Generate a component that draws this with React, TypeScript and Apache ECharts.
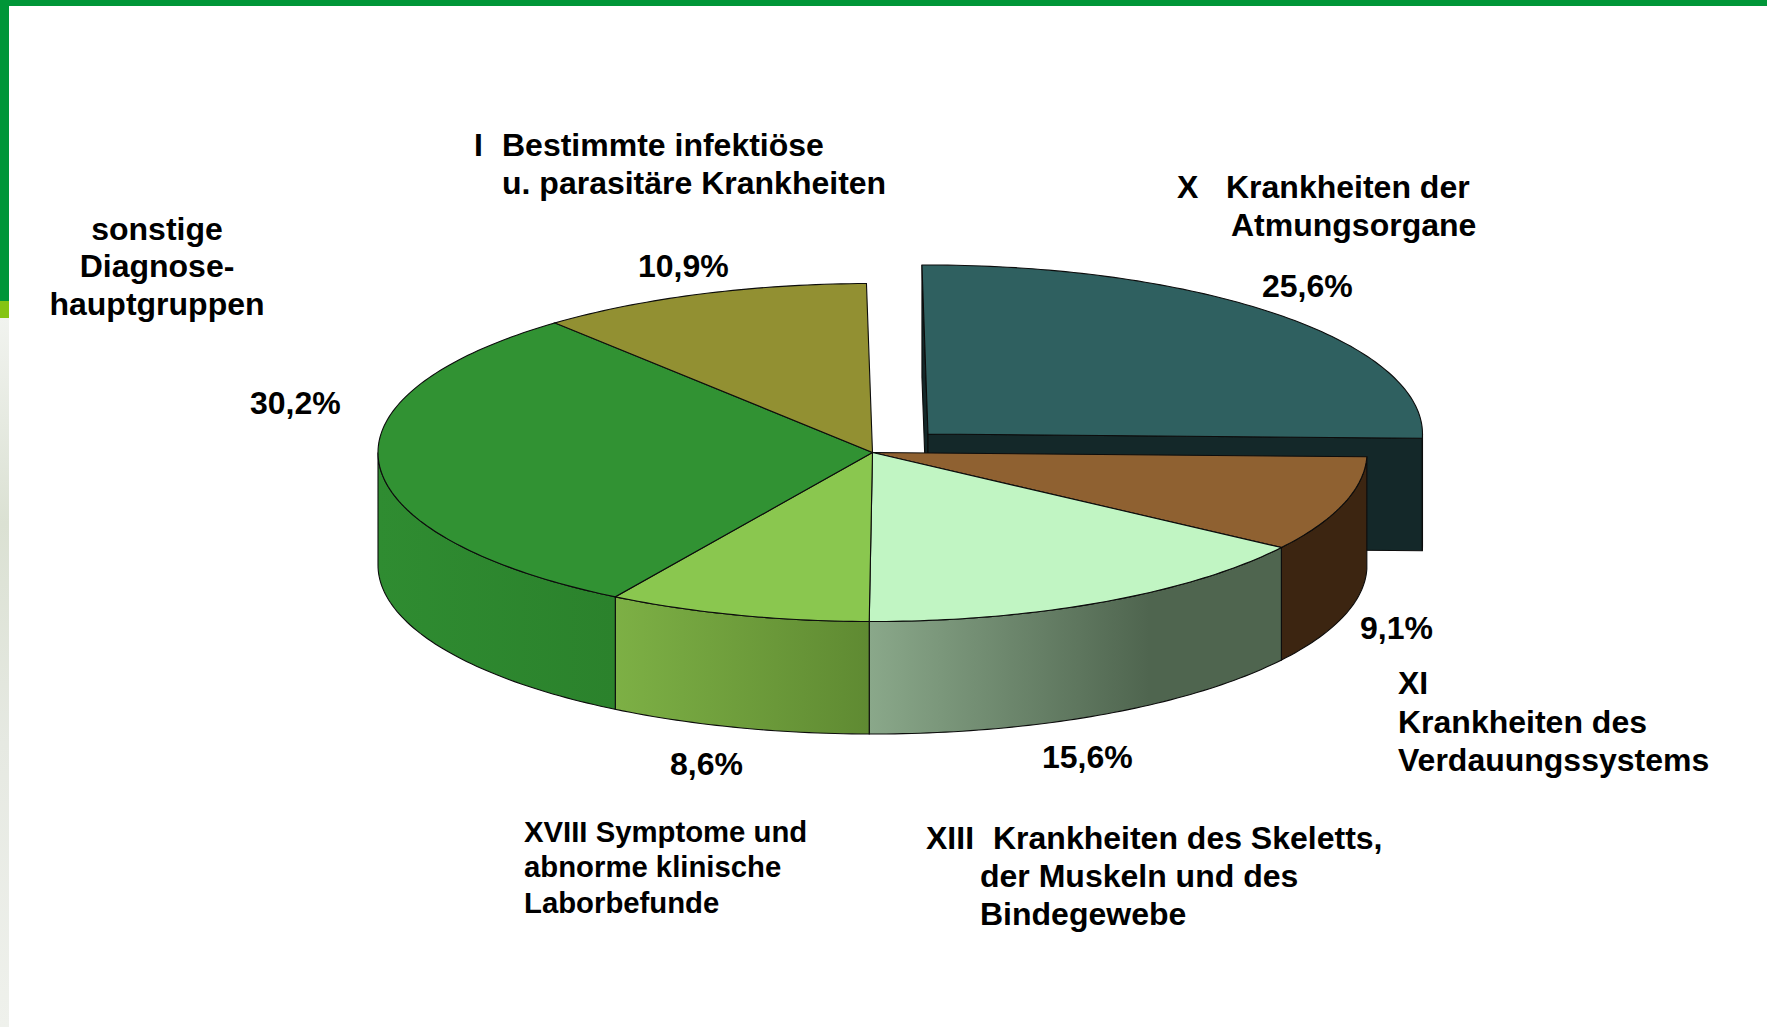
import React, { useEffect, useRef } from "react";
import * as echarts from "echarts";

const categories = ["X", "XI", "XIII", "XVIII", "sonstige", "I"];
const shares = [25.6, 9.1, 15.6, 8.6, 30.2, 10.9];
const topColors = ["#2F6060", "#8F6131", "#C1F5C3", "#8AC74F", "#319233", "#929032"];
const sideColors = [
  ["#142829", "#142829"],
  ["#3C2511", "#3C2511"],
  ["#8AA88A", "#4F654F"],
  ["#7DB045", "#5F8A32"],
  ["#2F8C31", "#2B822C"],
  ["#6E6C25", "#6E6C25"],
];
const labelTexts = [
  "I", "Bestimmte infektiöse", "u. parasitäre Krankheiten",
  "X", "Krankheiten der", "Atmungsorgane",
  "sonstige", "Diagnose-", "hauptgruppen",
  "XI", "Krankheiten des", "Verdauungssystems",
  "XIII", "Krankheiten des Skeletts,", "der Muskeln und des", "Bindegewebe",
  "XVIII Symptome und", "abnorme klinische", "Laborbefunde",
  "10,9%", "25,6%", "30,2%", "9,1%", "15,6%", "8,6%",
];

const CX = 872.5, CY = 452.5, RX = 494.5, RY = 169, DEPTH = 112.5;
const START = -0.7;
const EXPLODE = [55.5, -18.5];
const FONT = "'Liberation Sans', Arial, sans-serif";
// x, y (centre), align, size for each label text
const labelLayout: [number, number, string, number][] = [
  [474, 145, "left", 32], [502, 145, "left", 32], [502, 183, "left", 32],
  [1177, 187, "left", 32], [1226, 187, "left", 32], [1231, 225, "left", 32],
  [157, 228.5, "center", 32], [157, 266, "center", 32], [157, 304, "center", 32],
  [1398, 683, "left", 32], [1398, 722, "left", 32], [1398, 760, "left", 32],
  [926, 837.5, "left", 32], [993, 837.5, "left", 32], [980, 876, "left", 32], [980, 914, "left", 32],
  [524, 831, "left", 29.3], [524, 866.5, "left", 29.3], [524, 902, "left", 29.3],
  [638, 266, "left", 32], [1262, 286, "left", 32], [250, 402.5, "left", 32],
  [1360, 628, "left", 32], [1042, 757, "left", 32], [670, 764, "left", 32],
];

function pt(deg: number, ox: number, oy: number, dz = 0): number[] {
  const r = (deg * Math.PI) / 180;
  return [CX + ox + RX * Math.sin(r), CY + oy - RY * Math.cos(r) + dz];
}
function arc(a: number, b: number, ox: number, oy: number, dz = 0): number[][] {
  const out: number[][] = [];
  const n = Math.max(2, Math.ceil(Math.abs(b - a)));
  for (let i = 0; i <= n; i++) out.push(pt(a + ((b - a) * i) / n, ox, oy, dz));
  return out;
}

const EDGE = "#0c0c0c";

function renderItem(params: any, api: any) {
  const i = params.dataIndex;
  const share = api.value(0);
  let a = START;
  for (let k = 0; k < i; k++) a += (shares[k] * 360) / 100;
  const b = a + (share * 360) / 100;
  const exploded = i === 0;
  const ox = exploded ? EXPLODE[0] : 0;
  const oy = exploded ? EXPLODE[1] : 0;
  const apex = [CX + ox, CY + oy];
  const children: any[] = [];
  const poly = (points: number[][], fill: any) => ({
    type: "polygon",
    shape: { points },
    style: { fill, stroke: EDGE, lineWidth: 1.1 },
  });
  if (exploded) {
    const pa = pt(a, ox, oy);
    const pb = pt(b, ox, oy);
    children.push(
      poly([apex, pa, [pa[0], pa[1] + DEPTH], [apex[0], apex[1] + DEPTH]], sideColors[i][0]),
      poly([apex, pb, [pb[0], pb[1] + DEPTH], [apex[0], apex[1] + DEPTH]], sideColors[i][0]),
    );
  }
  const s = Math.max(a, 90);
  const e = Math.min(b, 270);
  if (e > s) {
    const top = arc(s, e, ox, oy);
    const bot = arc(e, s, ox, oy, DEPTH);
    const stops =
      i === 2
        ? [
            { offset: 0, color: sideColors[i][0] },
            { offset: 0.68, color: sideColors[i][1] },
            { offset: 1, color: sideColors[i][1] },
          ]
        : [
            { offset: 0, color: sideColors[i][0] },
            { offset: 1, color: sideColors[i][1] },
          ];
    children.push(poly(top.concat(bot), new echarts.graphic.LinearGradient(0, 0, 1, 0, stops)));
  }
  children.push(poly([apex, ...arc(a, b, ox, oy)], topColors[i]));
  return { type: "group", children };
}

export default function App() {
  const ref = useRef<HTMLDivElement>(null);
  useEffect(() => {
    document.body.style.margin = "0";
    document.body.style.overflow = "hidden";
    const chart = echarts.init(ref.current!, null, { renderer: "svg" });
    chart.setOption({
      animation: false,
      backgroundColor: "#ffffff",
      graphic: {
        elements: [
          { type: "rect", shape: { x: 0, y: 0, width: 1767, height: 6 }, style: { fill: "#009638" }, silent: true },
          { type: "rect", shape: { x: 0, y: 0, width: 9, height: 301 }, style: { fill: "#009638" }, silent: true },
          { type: "rect", shape: { x: 0, y: 301, width: 9, height: 17 }, style: { fill: "#85C414" }, silent: true },
          {
            type: "rect",
            shape: { x: 0, y: 318, width: 9, height: 709 },
            style: {
              fill: new echarts.graphic.LinearGradient(0, 0, 0, 1, [
                { offset: 0, color: "#F1F3EF" },
                { offset: 0.29, color: "#DBE1D3" },
                { offset: 0.6, color: "#E6E9E2" },
                { offset: 1, color: "#EFF1EC" },
              ]),
            },
            silent: true,
          },
          ...labelTexts.map((text, i) => ({
            type: "text",
            x: labelLayout[i][0],
            y: labelLayout[i][1],
            z: 10,
            style: {
              text,
              fill: "#000",
              font: `bold ${labelLayout[i][3]}px ${FONT}`,
              textAlign: labelLayout[i][2],
              textVerticalAlign: "middle",
            },
          })),
        ],
      },
      series: [
        {
          type: "custom",
          coordinateSystem: "none",
          clip: false,
          renderItem,
          data: categories.map((name, i) => ({ name, value: [shares[i]] })),
        },
      ],
    });
    return () => chart.dispose();
  }, []);
  return <div ref={ref} style={{ position: "absolute", left: 0, top: 0, width: 1767, height: 1027 }} />;
}
